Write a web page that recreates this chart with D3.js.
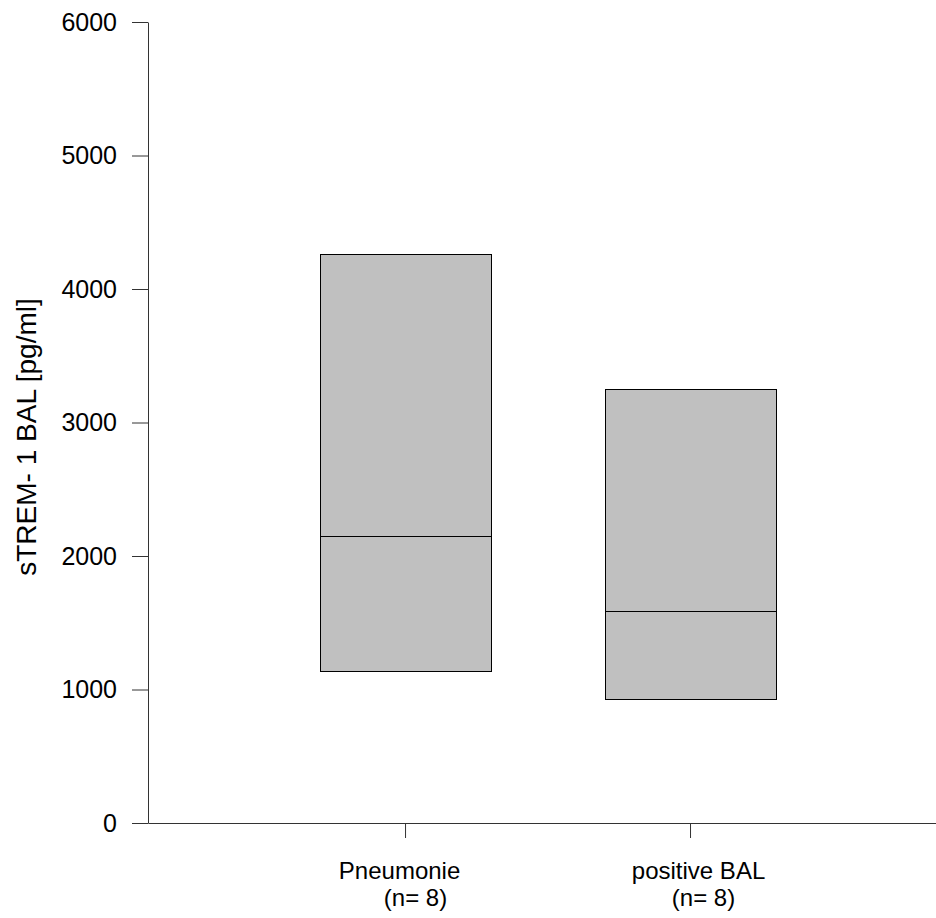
<!DOCTYPE html>
<meta charset="utf-8">
<style type="text/css">
    body { margin: 0; background: #fff; }
    text { font-family: Arial, "Liberation Sans", sans-serif; fill: #000; }
</style>
<body>
<div id="canvas"></div>
</body>
<script src="https://d3js.org/d3.v7.min.js"></script>
<script>

// groups and box values (pg/ml)
var groups = ["Pneumonie", "positive BAL"];
var groupN = ["(n= 8)", "(n= 8)"];
var boxLow = [1140, 930];
var boxMedian = [2150, 1590];
var boxHigh = [4260, 3250];
var yTicks = [0, 1000, 2000, 3000, 4000, 5000, 6000];

var width = 936, height = 918;
var plot = {left: 148, right: 936, top: 22, bottom: 823};

var svg = d3.select("#canvas").append("svg")
    .attr("width", width)
    .attr("height", height);

// scales
var x = d3.scalePoint()
    .domain(groups)
    .range([plot.left, plot.right])
    .padding(0.8825)
    .align(0.511);

var y = d3.scaleLinear()
    .domain([0, 6000])
    .range([plot.bottom, plot.top]);

var boxW = x.step() * 0.6;

var data = groups.map(function(g, i){
    return {name: g, n: groupN[i], lo: boxLow[i], med: boxMedian[i], hi: boxHigh[i]};
});

// boxes
var boxes = svg.selectAll("g.box")
    .data(data)
    .enter()
    .append("g")
    .attr("class", "box");

boxes.append("rect")
    .attr("x", function(d){ return Math.round(x(d.name) - boxW / 2) + 0.5; })
    .attr("y", function(d){ return Math.round(y(d.hi)) + 0.5; })
    .attr("width", Math.round(boxW))
    .attr("height", function(d){ return Math.round(y(d.lo)) - Math.round(y(d.hi)); })
    .attr("fill", "#c0c0c0")
    .attr("stroke", "#000")
    .attr("stroke-width", 1);

boxes.append("line")
    .attr("x1", function(d){ return Math.round(x(d.name) - boxW / 2) + 0.5; })
    .attr("x2", function(d){ return Math.round(x(d.name) - boxW / 2) + Math.round(boxW) + 0.5; })
    .attr("y1", function(d){ return Math.round(y(d.med)) + 0.5; })
    .attr("y2", function(d){ return Math.round(y(d.med)) + 0.5; })
    .attr("stroke", "#000")
    .attr("stroke-width", 1);

// axes
var yAxis = svg.append("g")
    .attr("transform", "translate(" + plot.left + ",0)")
    .call(d3.axisLeft(y)
        .tickValues(yTicks)
        .tickFormat(d3.format("d"))
        .tickSize(16)
        .tickSizeOuter(0)
        .tickPadding(15));

var xAxis = svg.append("g")
    .attr("transform", "translate(0," + plot.bottom + ")")
    .call(d3.axisBottom(x)
        .tickSize(15)
        .tickSizeOuter(0)
        .tickFormat(""));

svg.selectAll(".domain, .tick line").attr("stroke", "#333");

yAxis.selectAll(".tick text")
    .attr("font-size", 25)
    .attr("font-family", "Arial, 'Liberation Sans', sans-serif");

// category labels, two lines each
var lineShift = [[-6, 10], [8, 13]];
xAxis.selectAll(".tick").each(function(d, i){
    var t = d3.select(this);
    t.append("text")
        .attr("x", lineShift[i][0])
        .attr("y", 56)
        .attr("text-anchor", "middle")
        .attr("font-size", 24)
        .text(groups[i]);
    t.append("text")
        .attr("x", lineShift[i][1])
        .attr("y", 83)
        .attr("text-anchor", "middle")
        .attr("font-size", 24)
        .text(groupN[i]);
});

// y axis title
svg.append("text")
    .attr("transform", "translate(36,437) rotate(-90)")
    .attr("text-anchor", "middle")
    .attr("font-size", 28)
    .text("sTREM- 1 BAL [pg/ml]");

</script>
